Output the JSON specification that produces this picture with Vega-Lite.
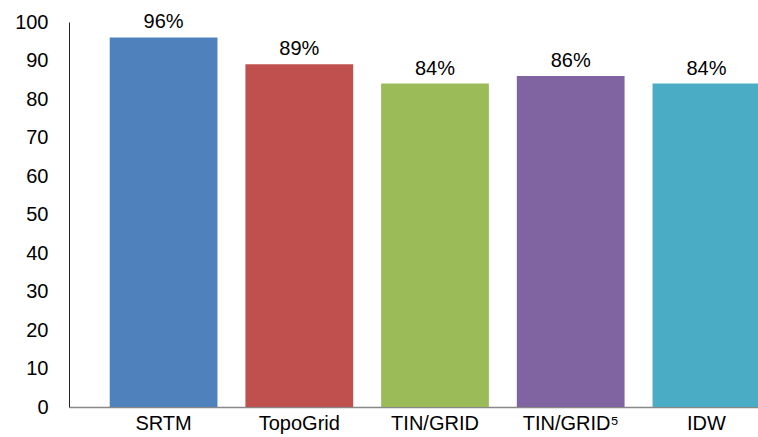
{
  "$schema": "https://vega.github.io/schema/vega-lite/v6.json",
  "autosize": {"type": "none"},
  "padding": {"left": 69, "top": 22, "right": 0, "bottom": 30},
  "width": 689,
  "height": 385,
  "background": "white",
  "config": {"view": {"stroke": null}, "font": "Liberation Sans"},
  "data": {"values": [
    {"method": "SRTM", "value": 96, "label": "96%"},
    {"method": "TopoGrid", "value": 89, "label": "89%"},
    {"method": "TIN/GRID", "value": 84, "label": "84%"},
    {"method": "TIN/GRID⁵", "value": 86, "label": "86%"},
    {"method": "IDW", "value": 84, "label": "84%"}
  ]},
  "encoding": {
    "x": {"field": "method", "type": "nominal", "sort": null,
      "scale": {"range": [0, 732], "paddingInner": 0.206, "paddingOuter": 0.3},
      "axis": {"title": null, "labelAngle": 0, "ticks": false, "labelFontSize": 20, "labelColor": "#000", "labelPadding": 6, "domainColor": "#888", "domainWidth": 1.5}},
    "y": {"field": "value", "type": "quantitative",
      "scale": {"domain": [0, 100], "nice": false},
      "axis": {"title": null, "values": [0,10,20,30,40,50,60,70,80,90,100], "grid": false, "ticks": false, "labelFontSize": 20, "labelColor": "#000", "labelPadding": 21, "domainColor": "#222", "domainWidth": 1}}
  },
  "layer": [
    {"mark": {"type": "bar", "clip": true},
     "encoding": {"color": {"field": "method", "type": "nominal", "sort": null, "legend": null,
       "scale": {"range": ["#4F81BD", "#C0504D", "#9BBB59", "#8064A2", "#4BACC6"]}}}},
    {"mark": {"type": "text", "baseline": "bottom", "dy": -5, "fontSize": 20, "color": "#000"},
     "encoding": {"text": {"field": "label"}}}
  ]
}
